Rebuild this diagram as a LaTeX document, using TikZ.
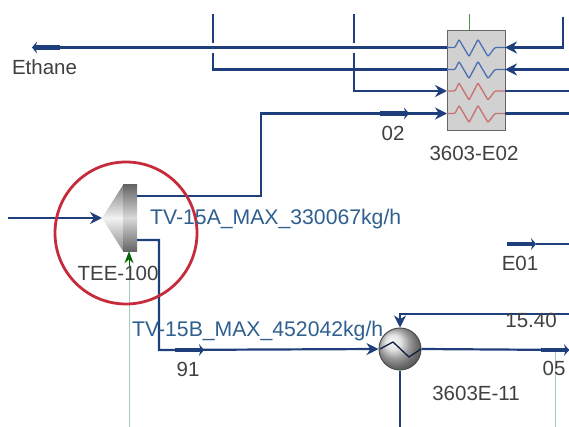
\documentclass[tikz,border=0pt]{standalone}
\usepackage{fontspec}
\setmainfont{Liberation Sans}
\usetikzlibrary{arrows.meta}
\definecolor{streamblue}{HTML}{1F3F7C}
\definecolor{labelblue}{HTML}{2F5F8F}
\definecolor{labelgrey}{HTML}{404040}
\definecolor{utilgreen}{HTML}{A6CDBA}
\definecolor{markred}{HTML}{C62B3C}
\definecolor{coilblue}{HTML}{4A6FB0}
\definecolor{coilred}{HTML}{C8706E}
\tikzset{
	stream/.style={draw=streamblue,line width=2.2pt},
	tip/.style={-{Stealth[length=12pt,width=12pt]},draw=streamblue,line width=2.2pt},
	fat/.style={-{Stealth[length=5pt,width=12pt]},draw=streamblue,line width=4.5pt},
	util/.style={draw=utilgreen,line width=1pt},
	tag/.style={text=labelgrey,font=\fontsize{20.5}{21}\selectfont,inner sep=0pt},
	rate/.style={text=labelblue,font=\fontsize{21.2}{22}\selectfont,inner sep=0pt,anchor=west},
	coil/.style={line width=1.3pt,rounded corners=1pt},
}
\begin{document}
\begin{tikzpicture}[x=1pt,y=-1pt]
	\useasboundingbox (0,0) rectangle (569,427);
	% free ends
	\coordinate (EthaneEnd) at (32,47.5);
	\coordinate (EthaneFat) at (60,47.5);
	\coordinate (StubA) at (213,14);
	\coordinate (StubAb) at (213,43);
	\coordinate (StubAc) at (213,53);
	\coordinate (StubB) at (354,14);
	\coordinate (StubBb) at (354,43);
	\coordinate (StubBc) at (354,53);
	\coordinate (FeedIn) at (8,218);
	\coordinate (TopIn) at (563,17);
	\coordinate (RightB) at (569,69.5);
	\coordinate (RightC) at (569,91);
	\coordinate (RightD) at (569,113.5);
	\coordinate (LoopEnd) at (569,314);
	\coordinate (OutEnd) at (569,350);
	\coordinate (HxDown) at (400,427);
	\coordinate (GreenA) at (129,427);
	\coordinate (GreenB) at (555,427);
	\coordinate (GreenC) at (469.5,14);
	\coordinate (E01a) at (507,244);
	\coordinate (E01b) at (536,244);
	\coordinate (E01c) at (569,244);
	% heat exchanger E02
	\node[draw=black!60,fill=black!18,line width=1pt,minimum width=58pt,minimum height=100pt,inner sep=0pt] (E02) at (476,81) {};
	\coordinate (E02a) at (447,47.5);
	\coordinate (E02b) at (447,69.5);
	\coordinate (E02c) at (447,91);
	\coordinate (E02d) at (447,113.5);
	\coordinate (E02e) at (505,47.5);
	\coordinate (E02f) at (505,69.5);
	\coordinate (E02g) at (505,91);
	\coordinate (E02h) at (505,113.5);
	\foreach \y/\c in {47.5/coilblue,69.5/coilblue,91/coilred,113.5/coilred}{
		\draw[coil,\c] (447,\y)--(455,\y)--(459,\y-8)--(469,\y+9)--(478,\y-8)--(488,\y+9)--(495,\y)--(505,\y);
	}
	% tee
	\shade[top color=black!50,bottom color=black!45,middle color=black!5] (102,218)--(123,185)--(123,251)--cycle;
	\node[minimum width=14pt,minimum height=66pt,inner sep=0pt,shade,top color=black!60,bottom color=black!60,middle color=black!15] (TEE) at (130,218) {};
	% cooler
	\node[circle,draw=black!70,line width=1pt,minimum size=42pt,inner sep=0pt,shade,ball color=black!15] (E11) at (400,349) {};
	\draw[streamblue!50!black,line width=1.3pt] (380,349)--(393,342)--(409,357)--(421,349);
	% streams
	\draw[stream] (E02a)--(EthaneFat);
	\draw[fat] (EthaneFat)--(EthaneEnd);
	\draw[stream] (StubA)--(StubAb);
	\draw[stream] (StubB)--(StubBb);
	\draw[stream] (StubAc)--(213,69.5)--(E02b);
	\draw[tip] (StubBc)--(354,91)--(E02c);
	\draw[tip] (TEE.east |- 0,196)--(261,196)--(261,113.5)--(E02d);
	\draw[fat] (380,113.5)--(409,113.5);
	\draw[tip] (TopIn)--(563,47.5)--(E02e);
	\draw[tip] (RightB)--(E02f);
	\draw[stream] (E02g)--(RightC);
	\draw[stream] (E02h)--(RightD);
	\draw[tip] (FeedIn)--(102,218);
	\draw[tip] (TEE.east |- 0,240)--(159,240)--(159,350)--(E11.west);
	\draw[fat] (175,350)--(204,350);
	\draw[tip] (LoopEnd)--(400,314)--(E11.north);
	\draw[stream] (E11.east)--(OutEnd);
	\draw[fat] (541,350)--(569,350);
	\draw[stream] (E11.south)--(HxDown);
	\draw[fat] (E01a)--(E01b);
	\draw[stream] (E01b)--(E01c);
	% utilities
	\draw[util] (GreenA)--(129,262);
	\draw[-{Stealth[length=12pt,width=9pt]},draw=green!40!black,line width=1pt] (129,266)--(TEE.south -| 129,0);
	\draw[util] (GreenB)--(555,352);
	\draw[util,draw=green!40!black!70] (GreenC)--(E02.north -| GreenC);
	% red mark
	\node[circle,draw=markred,line width=2.8pt,minimum size=142pt,inner sep=0pt] (Mark) at (126,233) {};
	% labels
	\node[tag] (Ethane) at (44.5,67) {Ethane};
	\node[tag] (L02) at (393,133) {02};
	\node[tag] (LE02) at (474,153) {3603-E02};
	\node[tag] (LTEE) at (118,273) {TEE-100};
	\node[tag] (L91) at (188,369) {91};
	\node[tag] (LE01) at (520,263) {E01};
	\node[tag] (L05) at (554,368) {05};
	\node[tag] (L15) at (531,320) {15.40};
	\node[tag] (LE11) at (476,393) {3603E-11};
	\node[rate] (RateA) at (150,219) {TV-15A\_MAX\_330067kg/h};
	\node[rate] (RateB) at (132,331) {TV-15B\_MAX\_452042kg/h};
\end{tikzpicture}
\end{document}
